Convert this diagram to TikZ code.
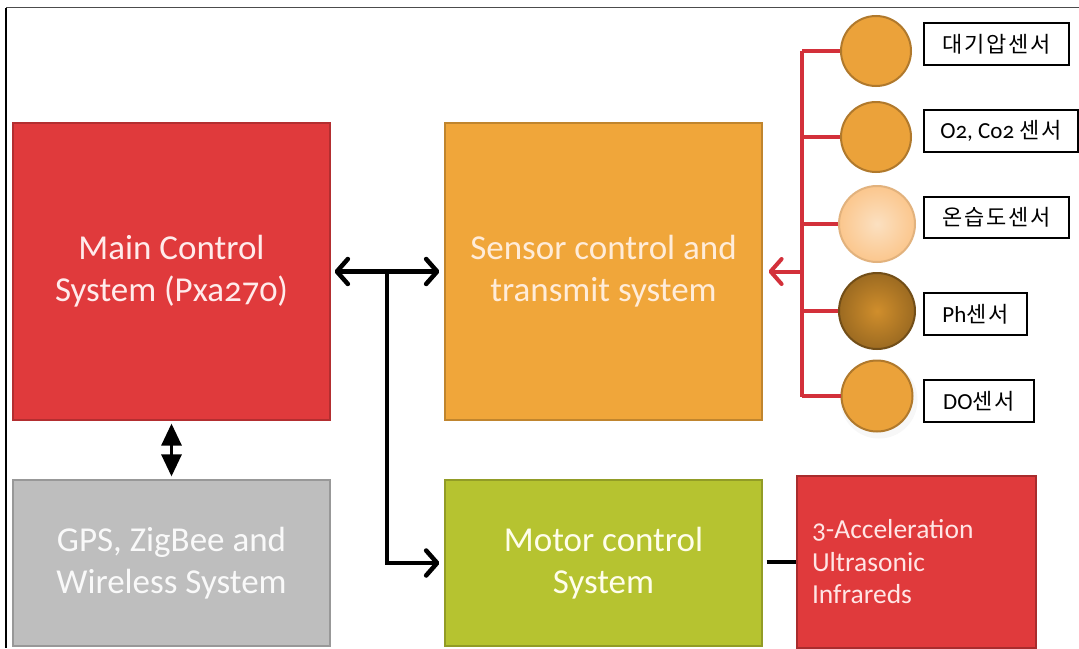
\documentclass[tikz,border=0pt]{standalone}
\usepackage{fontspec}
\setmainfont{Carlito}[Numbers=OldStyle]
\newfontfamily\kor{Noto Sans CJK KR}[LetterSpace=8]
\usetikzlibrary{arrows.meta}

\definecolor{mainred}{HTML}{E03A3C}
\definecolor{sensorange}{HTML}{F0A63A}
\definecolor{gpsgray}{HTML}{BEBEBE}
\definecolor{motorgreen}{HTML}{B6C330}
\definecolor{trunkred}{HTML}{D3303A}
\definecolor{ballorange}{HTML}{EBA23A}
\definecolor{ballpeach}{HTML}{FAD3A6}
\definecolor{balldark}{HTML}{D08E2C}

\tikzset{
  blk/.style={rectangle, inner sep=0pt, align=center,
    font=\fontsize{35}{42}\selectfont},
  sensorlbl/.style={rectangle, draw=black, line width=2pt, inner sep=0pt,
    font=\kor\fontsize{22}{24}\selectfont},
  ball/.style={circle, inner sep=0pt, line width=2pt},
  barb/.tip={Straight Barb[length=11pt,width=25pt,round]},
  link/.style={draw=black, line width=4.5pt, arrows={-barb}},
  twoway/.style={draw=black, line width=4.5pt, arrows={barb-barb}},
  fathead/.tip={Triangle[length=22pt,width=20pt]},
  trunk/.style={draw=trunkred, line width=4pt},
}

\begin{document}
\begin{tikzpicture}[x=1pt, y=-1pt]
\useasboundingbox (0,0) rectangle (1079,648);
\fill[white] (0,0) rectangle (1079,648);

% outer frame
\draw[black!70, line width=1.3pt] (6,7.5) -- (1079,7.5);
\draw[black, line width=1.5pt] (6,7.5) -- (6,648);

% main blocks
\node[blk, fill=mainred, draw=mainred!80!black, line width=1.2pt,
  minimum width=317pt, minimum height=297pt, text=white!92!red]
  (main) at (171.5,271.5) {Main Control\\System (Pxa270)};
\node[blk, fill=sensorange, draw=sensorange!80!black, line width=1.2pt,
  minimum width=317pt, minimum height=297pt, text=orange!15!white]
  (sensor) at (603.5,271.5) {Sensor control and\\transmit system};
\node[blk, fill=gpsgray, draw=gpsgray!80!black, line width=1.2pt,
  minimum width=317pt, minimum height=166pt, text=white!95!gray]
  (gps) at (171.5,563) {GPS, ZigBee and\\Wireless System};
\node[blk, fill=motorgreen, draw=motorgreen!80!black, line width=1.2pt,
  minimum width=317pt, minimum height=166pt, text=yellow!8!white]
  (motor) at (603.5,563) {Motor control\\System};
\node[rectangle, fill=mainred, draw=mainred!75!black, line width=1.2pt,
  minimum width=239pt, minimum height=172pt, inner xsep=15pt, inner ysep=0pt,
  text width=209pt, align=left, text=white!90!red,
  font=\fontsize{27.5}{32.5}\selectfont]
  (accel) at (916.5,562) {3-Acceleration\\Ultrasonic\\Infrareds};

% black connectors
\coordinate (junc) at (387,271.5);
\draw[twoway, shorten <=4pt, shorten >=5pt] (main.east) -- (sensor.west);
\draw[link, shorten >=5pt] (junc) |- (motor.west);
\coordinate (gmid) at (171.5,450);
\draw[black, line width=3pt, arrows={-fathead}, shorten >=3pt] (gmid) -- (main.south);
\draw[black, line width=3pt, arrows={-fathead}, shorten >=3pt] (gmid) -- (gps.north);
\draw[black, line width=4.5pt] ([xshift=4pt]motor.east |- accel.west) -- (accel.west);

% sensor balls
\fill[white!94!gray] (879,400) circle (38.5pt);
\node[ball, fill=ballorange, draw=ballorange!75!black, minimum size=70pt] (b1) at (876,51) {};
\node[ball, fill=ballorange, draw=ballorange!75!black, minimum size=70pt] (b2) at (876,137) {};
\node[ball, inner color=ballpeach!70!white, outer color=ballpeach!85!orange,
  draw=ballpeach!60!brown, minimum size=76pt] (b3) at (877,224) {};
\node[ball, inner color=balldark, outer color=balldark!75!black,
  draw=balldark!55!black, minimum size=76pt] (b4) at (877,311) {};
\node[ball, fill=ballorange, draw=ballorange!75!black, minimum size=71pt] (b5) at (877,396) {};

% sensor labels
\node[sensorlbl, minimum width=145pt, minimum height=42pt] (l1) at (996.5,44) {대기압센서};
\node[sensorlbl, minimum width=154pt, minimum height=42pt] (l2) at (1001,131)
  {{\rmfamily\fontsize{23}{24}\selectfont O2, Co2 }센서};
\node[sensorlbl, minimum width=145pt, minimum height=41pt] (l3) at (996.5,217.5) {온습도센서};
\node[sensorlbl, minimum width=103pt, minimum height=42pt] (l4) at (975.5,314)
  {{\rmfamily\fontsize{23}{24}\selectfont Ph}센서};
\node[sensorlbl, minimum width=110pt, minimum height=42pt] (l5) at (979,401)
  {{\rmfamily\fontsize{23}{24}\selectfont DO}센서};

% red collector
\coordinate (ttop) at (802,51);
\coordinate (tbot) at (802,397);
\coordinate (tmid) at (802,271.5);
\draw[trunk] (ttop) -- (tbot);
\foreach \b in {b1,b2,b3,b4,b5}
  \draw[trunk] (\b.west) -- (\b.west -| ttop);
\draw[trunk, arrows={-barb}, shorten >=6pt] (tmid) -- (sensor.east);
\end{tikzpicture}
\end{document}
